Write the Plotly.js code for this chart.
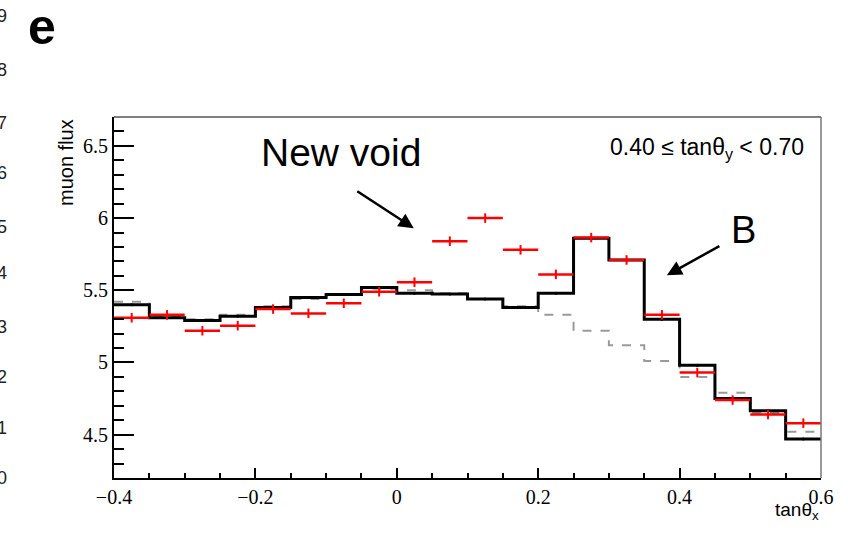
<!DOCTYPE html>
<html>
<head>
<meta charset="utf-8">
<script src="https://cdn.plot.ly/plotly-3.0.1.min.js"></script>
<style>
html,body{margin:0;padding:0;background:#fff;}
#chart{width:848px;height:534px;}
</style>
</head>
<body>
<div id="chart"></div>
<script>
// Bin edges (tanθx)
const binLow = [-0.40,-0.35,-0.30,-0.25,-0.20,-0.15,-0.10,-0.05,0.00,0.05,0.10,0.15,0.20,0.25,0.30,0.35,0.40,0.45,0.50,0.55];
const binUpperEdge = 0.60;
const binCenter = [-0.375,-0.325,-0.275,-0.225,-0.175,-0.125,-0.075,-0.025,0.025,0.075,0.125,0.175,0.225,0.275,0.325,0.375,0.425,0.475,0.525,0.575];
const binHalfWidth = 0.025;

// Black solid histogram (simulation with B)
const simFlux = [5.40,5.31,5.29,5.32,5.38,5.45,5.47,5.52,5.48,5.475,5.44,5.38,5.48,5.86,5.71,5.30,4.98,4.75,4.665,4.47];
// Grey dashed histogram (reference without anomalies)
const refFlux = [5.42,5.32,5.30,5.33,5.39,5.44,5.47,5.51,5.50,5.48,5.44,5.39,5.33,5.22,5.12,5.01,4.90,4.79,4.65,4.52];
// Red measured points
const measFlux = [5.31,5.33,5.22,5.255,5.37,5.34,5.41,5.49,5.556,5.84,6.00,5.78,5.61,5.865,5.71,5.33,4.93,4.74,4.64,4.58];
const measErr  = [0.033,0.033,0.033,0.033,0.033,0.033,0.033,0.033,0.033,0.033,0.033,0.033,0.033,0.033,0.033,0.033,0.033,0.033,0.033,0.033];

// Left-edge digits from the neighbouring panel
const edgeDigits = ['9','8','7','6','5','4','3','2','1','0'];
const edgeDigitPy = [16,70,123,173,227,273,327,377,428,478];

// plot area in pixels
const L=114, R=821, T=117, B=478;
const px2x = p => (p-L)/(R-L);
const py2y = p => (B-p)/(B-T);

const stepX = binLow.concat([binUpperEdge]);
const stepSim = simFlux.concat([simFlux[simFlux.length-1]]);
const stepRef = refFlux.concat([refFlux[refFlux.length-1]]);

const traces = [
  {x: stepX, y: stepRef, mode:'lines', line:{shape:'hv', color:'#9a9a9a', width:2, dash:'dash'}, hoverinfo:'skip'},
  {x: stepX, y: stepSim, mode:'lines', line:{shape:'hv', color:'#000', width:3}, hoverinfo:'skip'},
  {x: binCenter, y: simFlux, mode:'markers', marker:{color:'#000', size:3}, hoverinfo:'skip'},
  {x: binCenter, y: measFlux, mode:'markers', marker:{color:'#ff0000', size:1, opacity:0},
   error_x:{type:'constant', value:binHalfWidth, color:'#ff0000', thickness:2.5, width:0},
   error_y:{type:'data', array:measErr, color:'#ff0000', thickness:2, width:0}, hoverinfo:'skip'}
];

const serif = 'Liberation Serif, Times New Roman, serif';
const sans = 'Liberation Sans, Arial, sans-serif';

const annotations = [
  {xref:'paper', yref:'paper', x:px2x(341), y:py2y(152), text:'New void', showarrow:false, font:{family:sans, size:39, color:'#000'}, xanchor:'center', yanchor:'middle'},
  {xref:'paper', yref:'paper', x:px2x(743), y:py2y(230), text:'B', showarrow:false, font:{family:sans, size:38, color:'#000'}, xanchor:'center', yanchor:'middle'},
  {xref:'paper', yref:'paper', x:px2x(806), y:py2y(148), text:'0.40 ≤ tanθ<sub>y</sub> < 0.70', showarrow:false, font:{family:sans, size:23, color:'#000'}, xanchor:'right', yanchor:'middle'},
  {xref:'paper', yref:'paper', x:px2x(821), y:py2y(511), text:'tanθ<sub>x</sub>', showarrow:false, font:{family:sans, size:19, color:'#000'}, xanchor:'right', yanchor:'middle'},
  {xref:'paper', yref:'paper', x:px2x(66), y:py2y(163), text:'muon flux', textangle:-90, showarrow:false, font:{family:sans, size:20, color:'#000'}, xanchor:'center', yanchor:'middle'},
  {xref:'paper', yref:'paper', x:px2x(42), y:py2y(27), text:'<b>e</b>', showarrow:false, font:{family:sans, size:50, color:'#000'}, xanchor:'center', yanchor:'middle'},
  {xref:'x', yref:'y', x:0.024, y:5.93, ax:-58, ay:-38, text:'', showarrow:true, arrowhead:2, arrowsize:1.2, arrowwidth:2.5, arrowcolor:'#000'},
  {xref:'x', yref:'y', x:0.382, y:5.604, ax:54, ay:-30, text:'', showarrow:true, arrowhead:2, arrowsize:1.2, arrowwidth:2.5, arrowcolor:'#000'}
];
edgeDigits.forEach((d,i)=>{
  annotations.push({xref:'paper', yref:'paper', x:px2x(9), y:py2y(edgeDigitPy[i]), text:d, showarrow:false,
    font:{family:sans, size:18, color:'#222'}, xanchor:'right', yanchor:'middle'});
});

const layout = {
  width:848, height:534,
  margin:{l:L, r:848-R, t:T, b:534-B, pad:0},
  paper_bgcolor:'#fff', plot_bgcolor:'#fff',
  showlegend:false,
  xaxis:{range:[-0.4,0.6], dtick:0.2, tick0:-0.4, ticks:'inside', ticklen:10, tickwidth:2, tickcolor:'#000',
    showgrid:false, zeroline:false, showline:true, linecolor:'#000', linewidth:2,
    tickfont:{family:serif, size:20, color:'#000'},
    minor:{dtick:0.05, tick0:-0.4, ticks:'inside', ticklen:5, tickwidth:2, tickcolor:'#000', showgrid:false}},
  yaxis:{range:[4.2,6.7], dtick:0.5, tick0:4.5, ticks:'inside', ticklen:20, tickwidth:2, tickcolor:'#000',
    showgrid:false, zeroline:false, showline:true, linecolor:'#000', linewidth:2,
    tickfont:{family:serif, size:20, color:'#000'},
    minor:{dtick:0.1, tick0:4.2, ticks:'inside', ticklen:10, tickwidth:2, tickcolor:'#000', showgrid:false}},
  shapes:[
    {type:'line', xref:'paper', yref:'paper', x0:0, x1:1, y0:1, y1:1, line:{color:'#555', width:1.5}},
    {type:'line', xref:'paper', yref:'paper', x0:1, x1:1, y0:0, y1:1, line:{color:'#777', width:1.5}}
  ],
  annotations: annotations
};

Plotly.newPlot('chart', traces, layout, {displayModeBar:false, staticPlot:true});
</script>
</body>
</html>
